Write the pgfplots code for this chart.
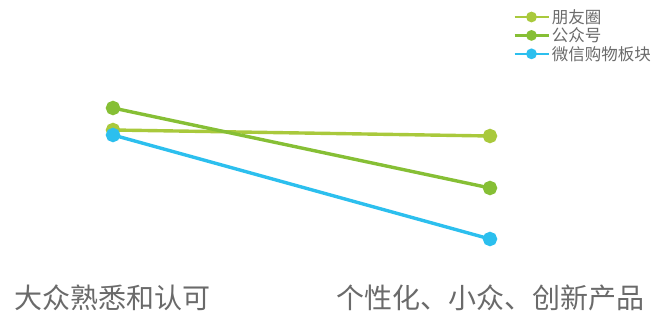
\documentclass[border=0pt]{standalone}
\usepackage{fontspec}
\setmainfont{Noto Sans CJK SC}
\usepackage{pgfplots}
\pgfplotsset{compat=1.18}
\definecolor{cA}{HTML}{A9C93C}
\definecolor{cB}{HTML}{86BF35}
\definecolor{cC}{HTML}{2CBFEE}
\definecolor{txt}{HTML}{6A6A6A}
\begin{document}
\begin{tikzpicture}
\begin{axis}[
  at={(0pt,0pt)}, anchor=south west,
  scale only axis, width=377pt, height=131pt,
  xmin=0, xmax=1, ymin=-239, ymax=-108,
  clip=false,
  axis line style={draw=none},
  tick style={draw=none},
  ytick=\empty,
  xtick={0,1},
  xticklabels={大众熟悉和认可,个性化、小众、创新产品},
  xticklabel style={anchor=center, yshift=-59pt, font=\fontsize{28}{32}\selectfont, text=txt},
  legend style={at={(1.061,1.77)}, anchor=north west, draw=none, fill=none,
    font=\fontsize{16.5}{18}\selectfont, text=txt, inner sep=0pt, row sep=-1pt,
    legend cell align=left},
  legend image code/.code={\draw[mark repeat=2,mark phase=2,#1,line width=2.6pt,mark size=4pt] plot coordinates {(0pt,0pt) (17pt,0pt) (34pt,0pt)};},
  every axis plot/.append style={line width=3.4pt, mark=*, mark size=5.5pt},
]
\addplot[color=cA, mark options={fill=cA, draw=cA}] coordinates {(0,-130) (1,-136)};
\addlegendentry{朋友圈}
\addplot[color=cB, mark options={fill=cB, draw=cB}] coordinates {(0,-108) (1,-188)};
\addlegendentry{公众号}
\addplot[color=cC, mark options={fill=cC, draw=cC}] coordinates {(0,-135) (1,-239)};
\addlegendentry{微信购物板块}
\end{axis}
\pgfresetboundingbox
\path[use as bounding box] (-113pt,-81pt) rectangle (548pt,239pt);
\end{tikzpicture}
\end{document}
